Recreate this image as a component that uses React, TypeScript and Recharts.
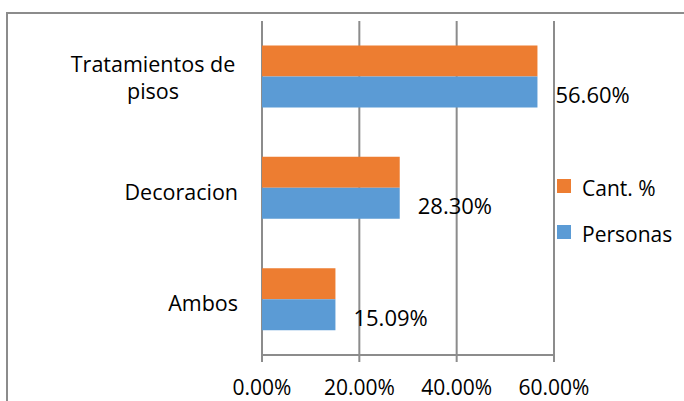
import React from 'react';
import { BarChart, Bar, XAxis, YAxis, CartesianGrid, Legend, LabelList } from 'recharts';

const categories = ['Tratamientos de\npisos', 'Decoracion', 'Ambos'];
const cantPct = [56.6, 28.3, 15.09];
const personas = [56.6, 28.3, 15.09];
const xTicks = [0, 20, 40, 60];
const bandTicks = [0, 1, 2, 3];
const seriesNames = ['Cant. %', 'Personas'];
const seriesColors = ['#ED7D31', '#5B9BD5'];

const data = categories.map((name, i) => ({ name, cant: cantPct[i], personas: personas[i] }));

const FONT = '"Open Sans", sans-serif';
const GRID = '#8c8c8c';

const CategoryTick = (props: any) => {
  const { x, y, payload } = props;
  const lines: string[] = String(payload.value).split('\n');
  if (lines.length === 1) {
    return (
      <text x={x} y={y + 11.5} textAnchor="end" fontSize={21.5} fontFamily={FONT} fill="#000">
        {lines[0]}
      </text>
    );
  }
  return (
    <g transform={`translate(${-85},0)`}>
      {lines.map((l, i) => (
        <text key={i} x={x} y={y - 5 + i * 27.5} textAnchor="middle" fontSize={21.5} fontFamily={FONT} fill="#000">
          {l}
        </text>
      ))}
    </g>
  );
};

const ValueLabel = (props: any) => {
  const { x, y, width, height, value } = props;
  return (
    <text x={x + width + 18} y={y + height / 2 + 11} fontSize={22} fontFamily={FONT} fill="#000">
      {Number(value).toFixed(2)}%
    </text>
  );
};

const LegendContent = (props: any) => {
  const payload = props.payload || [];
  return (
    <svg width={120} height={70} style={{ display: 'block', overflow: 'visible' }}>
      {payload.map((p: any, i: number) => (
        <g key={i}>
          <rect x={1} y={i * 46} width={14} height={14} fill={p.color} />
          <text x={26} y={i * 46 + 17} fontSize={21} fontFamily={FONT} fill="#000">{p.value}</text>
        </g>
      ))}
    </svg>
  );
};

export default function App() {
  return (
    <div style={{ position: 'absolute', left: 0, top: 0, width: 684, height: 401, overflow: 'hidden', background: '#fff' }}>
      <div style={{ position: 'absolute', left: 6, top: 12, width: 760, height: 460, border: `2px solid ${GRID}` }} />
      <div style={{ position: 'absolute', left: 0, top: 0 }}>
        <BarChart
          width={684}
          height={401}
          data={data}
          layout="vertical"
          margin={{ top: 21, right: 130, bottom: 16, left: 0 }}
          barCategoryGap="22%"
          barGap={0}
        >
          <CartesianGrid horizontal={false} stroke={GRID} strokeWidth={2} />
          <XAxis
            type="number"
            domain={[0, 60]}
            ticks={xTicks}
            tickFormatter={(v: number) => `${v.toFixed(2)}%`}
            stroke={GRID}
            strokeWidth={2}
            tickSize={7}
            tickMargin={18}
            height={30}
            tick={{ fontSize: 21, fontFamily: FONT, fill: '#000' }}
            interval={0}
          />
          <YAxis
            yAxisId="grid"
            type="number"
            domain={[0, 3]}
            ticks={bandTicks}
            allowDataOverflow
            width={0}
            tick={false}
            tickSize={10}
            stroke={GRID}
            strokeWidth={2}
          />
          <YAxis
            yAxisId="cat"
            type="category"
            dataKey="name"
            width={262}
            axisLine={false}
            tickLine={false}
            tickSize={0}
            tickMargin={24}
            tick={<CategoryTick />}
            interval={0}
          />
          <Legend
            layout="vertical"
            align="center"
            verticalAlign="middle"
            content={<LegendContent />}
            wrapperStyle={{ position: 'absolute', left: 556, top: 179, width: 120 }}
          />
          <Bar yAxisId="cat" dataKey="cant" name={seriesNames[0]} fill={seriesColors[0]} isAnimationActive={false} />
          <Bar yAxisId="cat" dataKey="personas" name={seriesNames[1]} fill={seriesColors[1]} isAnimationActive={false}>
            <LabelList dataKey="personas" content={<ValueLabel />} />
          </Bar>
        </BarChart>
      </div>
    </div>
  );
}
